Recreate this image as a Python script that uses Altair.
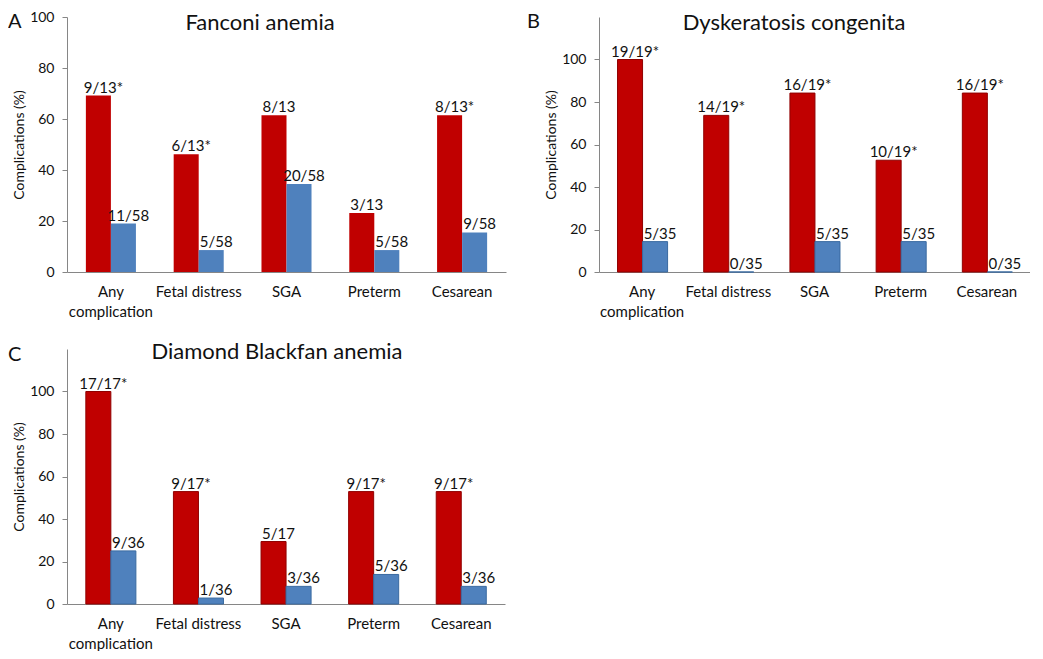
import altair as alt
import pandas as pd

categories = ["Any complication", "Fetal distress", "SGA", "Preterm", "Cesarean"]
groups = ["Patients", "Controls"]

# Panel A - Fanconi anemia
fa_pat = [69.2, 46.2, 61.5, 23.1, 61.5]
fa_pat_lbl = ["9/13*", "6/13*", "8/13", "3/13", "8/13*"]
fa_ctl = [19.0, 8.6, 34.5, 8.6, 15.5]
fa_ctl_lbl = ["11/58", "5/58", "20/58", "5/58", "9/58"]

# Panel B - Dyskeratosis congenita
dc_pat = [100.0, 73.7, 84.2, 52.6, 84.2]
dc_pat_lbl = ["19/19*", "14/19*", "16/19*", "10/19*", "16/19*"]
dc_ctl = [14.3, 0.0, 14.3, 14.3, 0.0]
dc_ctl_lbl = ["5/35", "0/35", "5/35", "5/35", "0/35"]

# Panel C - Diamond Blackfan anemia
dba_pat = [100.0, 52.9, 29.4, 52.9, 52.9]
dba_pat_lbl = ["17/17*", "9/17*", "5/17", "9/17*", "9/17*"]
dba_ctl = [25.0, 2.8, 8.3, 13.9, 8.3]
dba_ctl_lbl = ["9/36", "1/36", "3/36", "5/36", "3/36"]

FONT = "Lato"
AXIS_GRAY = "#868686"
TXT = "#111111"
H = 255


def make_df(pat, pat_lbl, ctl, ctl_lbl):
    rows = []
    for c, v, l in zip(categories, pat, pat_lbl):
        rows.append({"cat": c, "grp": "Patients", "val": v, "lbl": l})
    for c, v, l in zip(categories, ctl, ctl_lbl):
        rows.append({"cat": c, "grp": "Controls", "val": v, "lbl": l})
    return pd.DataFrame(rows)


def panel(df, title, letter, width, ymax, title_x, title_y, letter_x, letter_y, red, blue, stroke_cols):
    x_enc = alt.X(
        "cat:N",
        sort=categories,
        scale=alt.Scale(paddingInner=0.43, paddingOuter=0.215),
        axis=alt.Axis(
            title=None,
            labelAngle=0,
            ticks=False,
            domainColor=AXIS_GRAY,
            labelFont=FONT,
            labelFontSize=15,
            labelColor=TXT,
            labelPadding=12,
            labelLineHeight=20,
            labelExpr="datum.label == 'Any complication' ? ['Any', 'complication'] : datum.label",
        ),
    )
    xo = alt.XOffset("grp:N", sort=groups, scale=alt.Scale(paddingInner=0, paddingOuter=0))
    y_enc = alt.Y(
        "val:Q",
        scale=alt.Scale(domain=[0, ymax], nice=False),
        axis=alt.Axis(
            values=[0, 20, 40, 60, 80, 100],
            grid=False,
            title="Complications (%)",
            titleFont=FONT,
            titleFontSize=14,
            titleFontWeight="normal",
            titleColor=TXT,
            titlePadding=3,
            tickSize=5,
            tickColor=AXIS_GRAY,
            domainColor=AXIS_GRAY,
            labelFont=FONT,
            labelFontSize=14,
            labelColor=TXT,
            labelPadding=8,
        ),
    )
    color = alt.Color("grp:N", scale=alt.Scale(domain=groups, range=[red, blue]), legend=None)
    bar_kwargs = {}
    enc = dict(x=x_enc, xOffset=xo, y=y_enc, color=color)
    if stroke_cols:
        enc["stroke"] = alt.Stroke("grp:N", scale=alt.Scale(domain=groups, range=stroke_cols), legend=None)
        bar_kwargs["strokeWidth"] = 1
    bars = alt.Chart(df).mark_bar(**bar_kwargs).encode(**enc)
    labels = alt.Chart(df).mark_text(
        align="center", baseline="alphabetic", dy=-3, dx=5, font=FONT, fontSize=15, color=TXT
    ).encode(x=alt.X("cat:N", sort=categories), xOffset=alt.XOffset("grp:N", sort=groups), y="val:Q", text="lbl:N")
    ttl = alt.Chart(pd.DataFrame({"t": [title]})).mark_text(
        align="center", baseline="alphabetic", font=FONT, fontSize=22, color=TXT
    ).encode(x=alt.value(title_x), y=alt.value(title_y), text="t:N")
    let = alt.Chart(pd.DataFrame({"t": [letter]})).mark_text(
        align="left", baseline="alphabetic", font=FONT, fontSize=20, color=TXT
    ).encode(x=alt.value(letter_x), y=alt.value(letter_y), text="t:N")
    return alt.layer(bars, labels, ttl, let).properties(width=width, height=H)


pa = panel(make_df(fa_pat, fa_pat_lbl, fa_ctl, fa_ctl_lbl), "Fanconi anemia", "A", 439, 100, 193, 13, -59, 11,
           "#C00000", "#4F81BD", None)
pb = panel(make_df(dc_pat, dc_pat_lbl, dc_ctl, dc_ctl_lbl), "Dyskeratosis congenita", "B", 431, 120, 195, 13, -72, 11,
           "#D00000", "#5585C5", ["#900000", "#3A6AA0"])
pc = panel(make_df(dba_pat, dba_pat_lbl, dba_ctl, dba_ctl_lbl), "Diamond Blackfan anemia", "C", 438, 120, 210, 10, -59, 12,
           "#D00000", "#5585C5", ["#900000", "#3A6AA0"])

chart = alt.concat(
    pa, pb, pc, columns=2, spacing={"row": 77, "column": 93}, bounds="flush"
).properties(
    padding={"left": 0, "top": 2, "right": 0, "bottom": 0}
).configure(background="white").configure_view(stroke=None)

chart.save("out.html", embed_options={"renderer": "svg", "actions": False})
